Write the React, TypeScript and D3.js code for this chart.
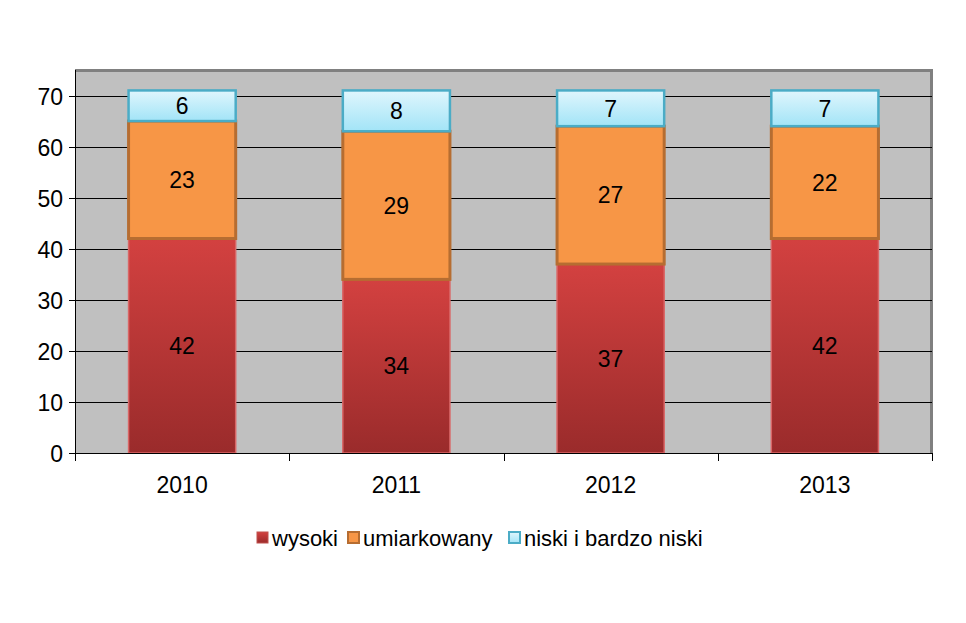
import { useEffect, useRef } from 'react';
import * as d3 from 'd3';

const years = ['2010', '2011', '2012', '2013'];
const wysoki = [42, 34, 37, 42];
const umiarkowany = [23, 29, 27, 22];
const niski = [6, 8, 7, 7];
const yTicks = [0, 10, 20, 30, 40, 50, 60, 70];
const seriesNames = ['wysoki', 'umiarkowany', 'niski i bardzo niski'];

const W = 966, H = 623;
const M = { left: 75, right: 34, top: 70, bottom: 170 };
const FONT = 'Liberation Sans, Arial, sans-serif';

export default function App() {
  const svgRef = useRef<SVGSVGElement>(null);

  useEffect(() => {
    const svg = d3.select(svgRef.current);
    svg.selectAll('*').remove();

    const defs = svg.append('defs');
    const grad = (id: string, top: string, bottom: string) => {
      const g = defs.append('linearGradient').attr('id', id)
        .attr('x1', 0).attr('y1', 0).attr('x2', 0).attr('y2', 1);
      g.append('stop').attr('offset', '0%').attr('stop-color', top);
      g.append('stop').attr('offset', '100%').attr('stop-color', bottom);
    };
    grad('gRed', '#D34140', '#9A2B2B');
    grad('gBlue', '#E0F6FD', '#A2E4F7');

    const x = d3.scaleBand().domain(years)
      .range([M.left, W - M.right]).paddingInner(0.5).paddingOuter(0.25);
    const y = d3.scaleLinear().domain([0, 75]).range([H - M.bottom, M.top]);

    const x0 = M.left, x1 = W - M.right, yTop = M.top, yBot = H - M.bottom;

    // plot area
    svg.append('rect').attr('x', x0).attr('y', yTop)
      .attr('width', x1 - x0).attr('height', yBot - yTop).attr('fill', '#C0C0C0');
    svg.append('path')
      .attr('d', `M${x0},${yTop + 0.5}H${x1 - 0.5}V${yBot}`)
      .attr('fill', 'none').attr('stroke', '#808080').attr('stroke-width', 3);

    // grid
    svg.append('g').selectAll('line').data(yTicks.filter(t => t > 0)).join('line')
      .attr('x1', x0).attr('x2', x1)
      .attr('y1', d => Math.round(y(d)) + 0.5).attr('y2', d => Math.round(y(d)) + 0.5)
      .attr('stroke', '#000').attr('stroke-width', 1);

    // stacks
    const rows = years.map((yr, i) => ({ yr, a: wysoki[i], b: umiarkowany[i], c: niski[i] }));
    const stack = d3.stack<any>().keys(['a', 'b', 'c'])(rows);
    const fills = ['url(#gRed)', '#F79646', 'url(#gBlue)'];
    const strokes = ['#D96666', '#B66D31', '#4BACC6'];
    const sw = [1.5, 3, 2.5];

    stack.forEach((layer, li) => {
      const g = svg.append('g');
      g.selectAll('rect').data(layer).join('rect')
        .attr('x', d => x(d.data.yr)!)
        .attr('y', d => y(d[1]))
        .attr('width', x.bandwidth())
        .attr('height', d => y(d[0]) - y(d[1]))
        .attr('fill', fills[li])
        .attr('stroke', strokes[li])
        .attr('stroke-width', sw[li]);
    });
    stack.forEach(layer => {
      svg.append('g').selectAll('text').data(layer).join('text')
        .attr('x', d => x(d.data.yr)! + x.bandwidth() / 2)
        .attr('y', d => (y(d[0]) + y(d[1])) / 2)
        .attr('dy', '0.36em')
        .attr('text-anchor', 'middle')
        .attr('font-family', FONT)
        .attr('font-size', 23)
        .attr('fill', '#000')
        .text(d => d[1] - d[0]);
    });

    // y axis
    svg.append('line').attr('x1', x0 + 0.5).attr('x2', x0 + 0.5)
      .attr('y1', yTop).attr('y2', yBot).attr('stroke', '#000');
    const ya = svg.append('g');
    yTicks.forEach(t => {
      const yy = Math.round(y(t)) + 0.5;
      ya.append('line').attr('x1', x0 - 6).attr('x2', x0).attr('y1', yy).attr('y2', yy).attr('stroke', '#000');
      ya.append('text').attr('x', x0 - 12).attr('y', yy).attr('dy', '0.36em')
        .attr('text-anchor', 'end')
        .attr('font-family', FONT)
        .attr('font-size', 23).text(t);
    });

    // x axis
    svg.append('line').attr('x1', x0).attr('x2', x1)
      .attr('y1', yBot + 0.5).attr('y2', yBot + 0.5).attr('stroke', '#000');
    const step = x.step();
    const edges = years.map((_, i) => x0 + i * step).concat([x1]);
    edges.forEach(e => {
      svg.append('line').attr('x1', Math.round(e) + 0.5).attr('x2', Math.round(e) + 0.5)
        .attr('y1', yBot).attr('y2', yBot + 8).attr('stroke', '#000');
    });
    years.forEach(yr => {
      svg.append('text').attr('x', x(yr)! + x.bandwidth() / 2).attr('y', yBot + 40)
        .attr('text-anchor', 'middle')
        .attr('font-family', FONT)
        .attr('font-size', 23).text(yr);
    });

    // legend
    const lg = svg.append('g').attr('transform', 'translate(256,538)');
    const swatchFill = ['url(#gRed)', '#F79646', 'url(#gBlue)'];
    const swatchStroke = ['#C0504D', '#B66D31', '#4BACC6'];
    const offs = [0, 91, 252];
    seriesNames.forEach((n, i) => {
      lg.append('rect').attr('x', offs[i] + 1).attr('y', -6).attr('width', 11).attr('height', 11)
        .attr('fill', swatchFill[i]).attr('stroke', swatchStroke[i]).attr('stroke-width', i === 0 ? 1 : 2);
      lg.append('text').attr('x', offs[i] + 16).attr('y', 0).attr('dy', '0.36em')
        .attr('font-family', FONT)
        .attr('font-size', 22).text(n);
    });
  }, []);

  return (
    <div style={{ margin: -8 }}>
      <svg ref={svgRef} width={W} height={H} style={{ display: 'block', background: '#fff' }} />
    </div>
  );
}
